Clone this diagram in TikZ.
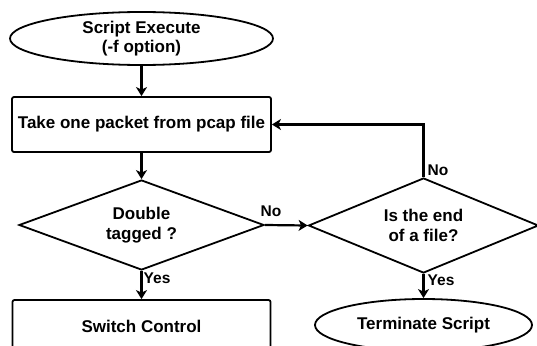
\documentclass[tikz,border=0pt]{standalone}
\usepackage{fontspec}
\setmainfont{Liberation Sans}
\usetikzlibrary{shapes.geometric,arrows.meta}
\begin{document}
\begin{tikzpicture}[x=1pt,y=-1pt,
  base/.style={draw=black,line width=1.8pt,inner sep=0pt,align=center,
    font=\fontsize{17}{19.5}\selectfont\bfseries},
  term/.style={base,ellipse},
  procbox/.style={base,rectangle,rounded corners=2pt},
  decis/.style={base,diamond,aspect=2.7},
  lbl/.style={inner sep=0pt,anchor=west,font=\fontsize{15.5}{18}\selectfont\bfseries},
  conn/.style={line width=2.2pt,-{Stealth[length=9pt,width=11pt,inset=2.5pt]}}]
\clip (0,0) rectangle (537,345);
\fill[white] (0,0) rectangle (537,345);
\node[term,minimum width=263pt,minimum height=53pt] (e1) at (141.5,38.5) {Script Execute\\(-f option)};
\node[procbox,minimum width=259pt,minimum height=55pt] (r1) at (141.5,124.5) {Take one packet from pcap file};
\node[decis,minimum width=245pt,minimum height=90pt] (d1) at (141.5,225) {Double\\tagged ?};
\node[procbox,minimum width=258pt,minimum height=52pt] (r2) at (141.5,326) {Switch Control};
\node[decis,minimum width=230pt,minimum height=95pt] (d2) at (423.5,225.5) {Is the end\\of a file?};
\node[term,minimum width=217pt,minimum height=52pt] (e2) at (423.5,325) {Terminate Script};
\draw[conn] (e1) -- (r1);
\draw[conn] (r1) -- (d1);
\draw[conn] (d1) -- (r2);
\draw[conn] (d1.east) -- (d2.west);
\draw[conn] (d2.north) |- (r1.east);
\draw[conn] (d2) -- (e2);
\node[lbl] (l1) at (143.5,278) {Yes};
\node[lbl] (l2) at (260.5,211) {No};
\node[lbl] (l3) at (427.5,170.5) {No};
\node[lbl] (l4) at (427.5,280.5) {Yes};
\end{tikzpicture}
\end{document}
